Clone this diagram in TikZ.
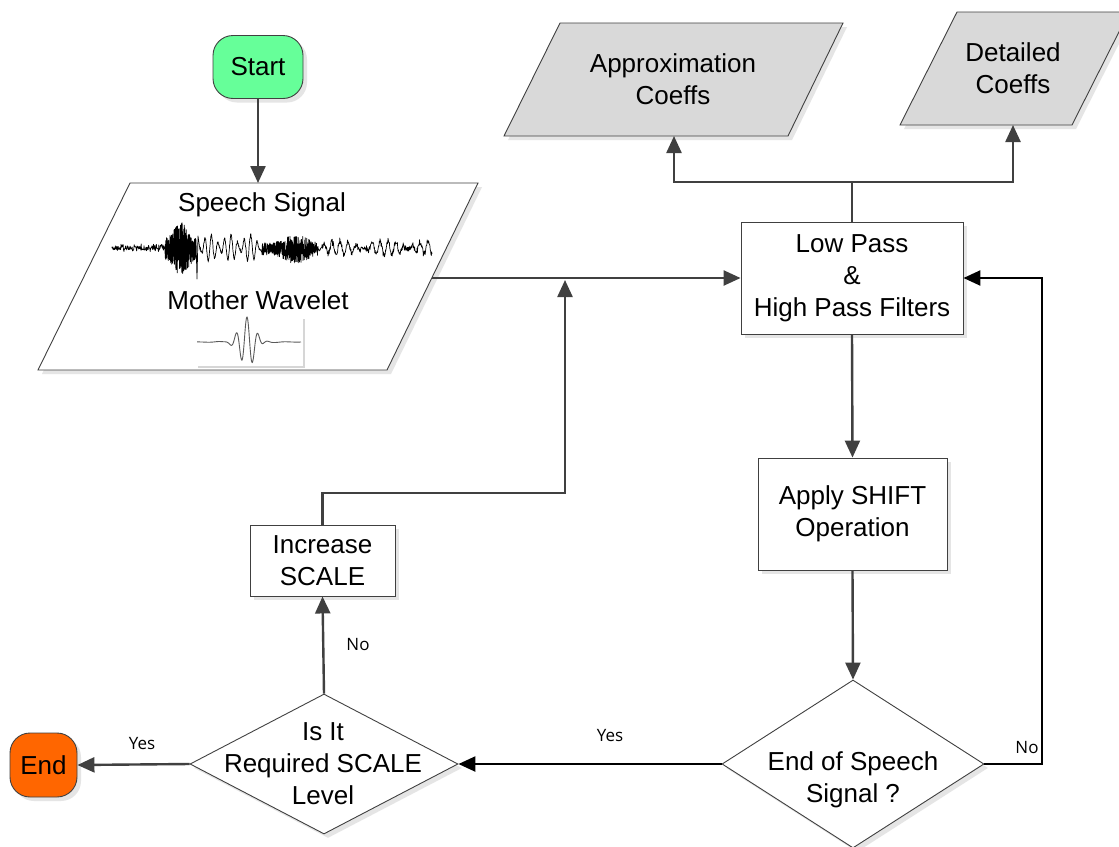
\documentclass[tikz,border=0pt]{standalone}
\usepackage{fontspec}
\setmainfont{Liberation Sans}
\newfontfamily\lblfont{Open Sans}
\usetikzlibrary{arrows.meta,shapes.geometric,shadows}
\definecolor{linegray}{HTML}{404040}
\definecolor{startgreen}{HTML}{66FF99}
\definecolor{endorange}{HTML}{FF6600}
\definecolor{coeffgray}{HTML}{D9D9D9}
\tikzset{
  boxshadow/.style={drop shadow={shadow xshift=4pt, shadow yshift=-4pt, fill=black!10, opacity=1}},
  txt/.style={font=\fontsize{26}{32}\selectfont, align=center, inner sep=0pt},
  procbox/.style={draw=linegray, line width=0.9pt, fill=white, boxshadow, txt},
  termbox/.style={draw=linegray, line width=0.9pt, rounded corners=20pt, boxshadow, txt},
  decision/.style={diamond, draw=linegray, line width=0.9pt, fill=white, boxshadow, inner sep=0pt},
  iobox/.style={draw=linegray, line width=0.9pt, boxshadow},
  flow/.style={draw=linegray, line width=2.4pt, -{Triangle[length=17pt,width=15pt]}},
  flowk/.style={draw=black, line width=2.4pt, -{Triangle[length=17pt,width=15pt]}},
  plain/.style={draw=linegray, line width=2.4pt},
  lbl/.style={font=\lblfont\fontsize{17}{20}\selectfont, inner sep=0pt},
}
\begin{document}
\begin{tikzpicture}[x=1pt,y=-1pt]
\useasboundingbox (0,0) rectangle (1119,846);
\fill[white] (0,0) rectangle (1119,846);

% terminals
\node[termbox, fill=startgreen, minimum width=90pt, minimum height=63pt] (start) at (258,67) {Start};
\node[termbox, fill=endorange, minimum width=67pt, minimum height=64pt] (end) at (43.5,765) {End};

% input: speech signal and mother wavelet
\path[iobox, fill=white] (130,183) -- (478,183) -- (387,370) -- (38,370) -- cycle;
\node[txt] (sptext) at (262,205) {Speech Signal};
\node[txt] (mwtext) at (258,300) {Mother Wavelet};
\pgfmathsetseed{11}
\draw[black, line width=0.7pt, line join=round]
  (112,248)
  -- plot[domain=112:165, samples=130] (\x, {248+(1.5+3*abs(rand))*rand})
  -- plot[domain=165:196, samples=360] (\x, {249+(10+17*exp(-((\x-181)/9)^2))*rand})
  -- (197,279) -- (198,236) -- (200,250)
  -- plot[domain=200:262, samples=240] (\x, {248+(2+11*abs(sin((\x-200)*9)))*sin((\x-200)*55)+1.5*rand})
  -- plot[domain=262:318, samples=380] (\x, {249+(6+9*exp(-((\x-296)/14)^2))*rand})
  -- plot[domain=318:432, samples=330] (\x, {248+(1.5+2.5*abs(rand))*rand+7*sin((\x-318)*45)*abs(sin((\x-318)*4))});
% wavelet picture frame and curve
\draw[black!16, line width=1.6pt] (304,319) -- (304,367) -- (198,367);
\draw[black!65, line width=0.9pt] plot[domain=197:301, samples=300]
  (\x, {342-25*exp(-((\x-247)/10.5)^2)*cos((\x-247)*33)+1.2*sin((\x-247)*16)*exp(-((\x-247)/30)^2)});
\coordinate (spTop) at (258,183);
\coordinate (spRight) at (432,278);

% outputs
\path[iobox, fill=coeffgray] (560,23) -- (843,23) -- (788,136) -- (504,136) -- cycle;
\node[txt] (aptext) at (673,79) {Approximation\\Coeffs};
\path[iobox, fill=coeffgray] (957,12) -- (1129,12) -- (1072,125) -- (900,125) -- cycle;
\node[txt] (dttext) at (1013,68) {Detailed\\Coeffs};
\coordinate (apBot) at (674,136);
\coordinate (dtBot) at (1013,125);

% processes
\node[procbox, minimum width=222pt, minimum height=112pt] (lowpass) at (852,278) {Low Pass\\\&\\High Pass Filters};
\node[procbox, minimum width=189pt, minimum height=112pt] (shift) at (852.5,514) {Apply SHIFT\\Operation};
\node[procbox, minimum width=145pt, minimum height=71pt] (inc) at (322.5,560.5) {Increase\\SCALE};

% decisions
\node[decision, minimum width=262pt, minimum height=168pt] (endd) at (853,764) {};
\node[txt] (enddtext) at (853,780) {End of Speech\\Signal ?};
\node[decision, minimum width=268pt, minimum height=140pt] (isit) at (324,764) {};
\node[txt] (isittext) at (323,764) {Is It\\Required SCALE\\Level};

% connectors
\coordinate (split) at (852,182);
\coordinate (bend) at (565,493);
\coordinate (merge) at (565,280);
\coordinate (nocorner) at (1042,278);
\draw[flow] (start) -- (spTop);
\draw[flow] (spRight) -- (lowpass.west);
\draw[plain] (lowpass.north) -- (split);
\draw[flow] (split) -| (apBot);
\draw[flow] (split) -| (dtBot);
\draw[flow] (lowpass.south) -- (shift.north);
\draw[flow] (shift.south) -- (endd.north);
\draw[flowk] (endd.east) -| (nocorner) -- (lowpass.east);
\draw[flowk] (endd.west) -- (isit.east);
\draw[flow] (isit.north) -- (inc.south);
\draw[flow] (isit.west) -- (end.east);
\draw[flow] (inc.north) |- (bend) -- (merge);

% branch labels
\node[lbl] (yes1) at (610,736) {Yes};
\node[lbl] (yes2) at (142,744) {Yes};
\node[lbl] (no1) at (358,645) {No};
\node[lbl] (no2) at (1027,748) {No};
\end{tikzpicture}
\end{document}
